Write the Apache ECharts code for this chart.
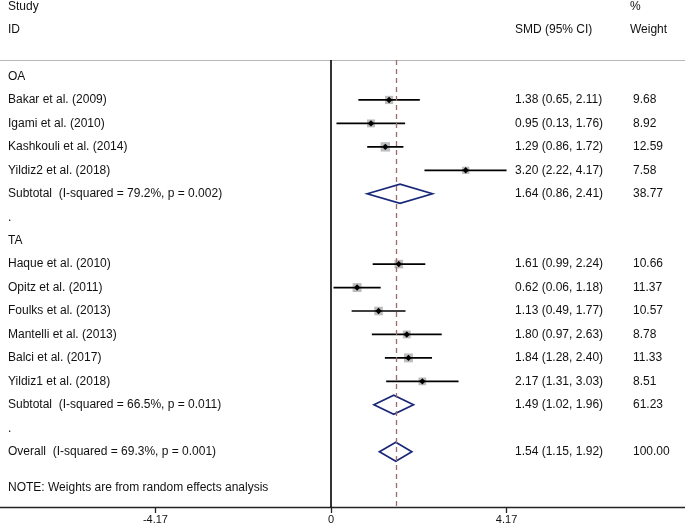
<!DOCTYPE html>
<html><head><meta charset="utf-8">
<script src="https://cdn.jsdelivr.net/npm/echarts@6/dist/echarts.min.js"></script>
<style>html,body{margin:0;padding:0;background:#fff}#c{width:685px;height:527px}</style>
</head><body><div id="c"></div>
<script>
// ---- data ----
const studyNames = ['Bakar et al. (2009)','Igami et al. (2010)','Kashkouli et al. (2014)','Yildiz2 et al. (2018)',
  'Haque et al. (2010)','Opitz et al. (2011)','Foulks et al. (2013)','Mantelli et al. (2013)','Balci et al. (2017)','Yildiz1 et al. (2018)'];
const studyRows = [1,2,3,4,8,9,10,11,12,13];
const smd = [1.38,0.95,1.29,3.20,1.61,0.62,1.13,1.80,1.84,2.17];
const ciLow = [0.65,0.13,0.86,2.22,0.99,0.06,0.49,0.97,1.28,1.31];
const ciHigh = [2.11,1.76,1.72,4.17,2.24,1.18,1.77,2.63,2.40,3.03];
const weights = [9.68,8.92,12.59,7.58,10.66,11.37,10.57,8.78,11.33,8.51];

const pooledLabels = ['Subtotal  (I-squared = 79.2%, p = 0.002)','Subtotal  (I-squared = 66.5%, p = 0.011)','Overall  (I-squared = 69.3%, p = 0.001)'];
const pooledRows = [5,14,16];
const pooledSmd = [1.64,1.49,1.54];
const pooledLow = [0.86,1.02,1.15];
const pooledHigh = [2.41,1.96,1.92];
const pooledWeight = [38.77,61.23,100.00];

const groupLabels = ['OA','TA'];
const groupRows = [0,7];
const dotRows = [6,15];
const noteText = 'NOTE: Weights are from random effects analysis';
const noteRow = 17.55;
const tickValues = [-4.17, 0, 4.17];
const overallSmd = 1.54;

// ---- layout ----
const PX_PER_UNIT = 42.1, ZERO_X = 331, W = 685;
const GRID_TOP = 60, GRID_BOTTOM_Y = 507, ROW_H = 23.45, FIRST_ROW_Y = 76.5;
const xMin = -ZERO_X / PX_PER_UNIT, xMax = (W - ZERO_X) / PX_PER_UNIT;
const yMin = -(FIRST_ROW_Y - GRID_TOP) / ROW_H;
const yMax = yMin + (GRID_BOTTOM_Y - GRID_TOP) / ROW_H;
const COL_LABEL = 8, COL_SMD = 515, COL_W = 633;
const FONT = '"Liberation Sans", Arial, Helvetica, sans-serif';
const TXT = '#111';

const fmt = v => v.toFixed(2);

// text rows
const textRows = [];
studyNames.forEach((n,i)=>textRows.push([studyRows[i], n, fmt(smd[i])+' ('+fmt(ciLow[i])+', '+fmt(ciHigh[i])+')', fmt(weights[i])]));
pooledLabels.forEach((n,i)=>textRows.push([pooledRows[i], n, fmt(pooledSmd[i])+' ('+fmt(pooledLow[i])+', '+fmt(pooledHigh[i])+')', fmt(pooledWeight[i])]));
groupLabels.forEach((n,i)=>textRows.push([groupRows[i], n, '', '']));
dotRows.forEach(r=>textRows.push([r, '.', '', '']));
textRows.push([noteRow, noteText, '', '']);

const studyData = studyRows.map((r,i)=>[smd[i], r, ciLow[i], ciHigh[i], weights[i]]);
const pooledData = pooledRows.map((r,i)=>[pooledSmd[i], r, pooledLow[i], pooledHigh[i]]);

const chart = echarts.init(document.getElementById('c'), null, {renderer:'canvas'});
const textStyle = (x,y,t)=>({type:'text', style:{x:x, y:y, text:t, fill:TXT, font:'12px '+FONT, textVerticalAlign:'middle', textAlign:'left'}});

chart.setOption({
  animation:false,
  backgroundColor:'#fff',
  grid:{left:0, right:0, top:GRID_TOP, bottom:527-GRID_BOTTOM_Y, containLabel:false},
  xAxis:[{
    type:'value', min:xMin, max:xMax, position:'bottom',
    splitLine:{show:false},
    axisLine:{show:true, onZero:false, lineStyle:{color:'#222', width:1.3}},
    axisTick:{show:true, customValues:tickValues, length:6, inside:false, lineStyle:{color:'#222', width:1.3}},
    axisLabel:{show:true, customValues:tickValues, margin:7, color:TXT, fontSize:11, fontFamily:FONT,
      formatter:v=>{ const t = tickValues.find(tv=>Math.abs(tv-v)<1e-6); return t===undefined? '' : (t===0?'0':t.toFixed(2)); }}
  },{
    type:'value', min:xMin, max:xMax, position:'top',
    splitLine:{show:false}, axisTick:{show:false}, axisLabel:{show:false},
    axisLine:{show:true, onZero:false, lineStyle:{color:'#b8b8b8', width:1.2}}
  }],
  yAxis:{type:'value', min:yMin, max:yMax, inverse:true, show:false},
  graphic:[
    textStyle(COL_LABEL, 7, 'Study'),
    textStyle(COL_LABEL, 30, 'ID'),
    textStyle(COL_SMD, 30, 'SMD (95% CI)'),
    textStyle(630, 7, '%'),
    textStyle(630, 30, 'Weight')
  ],
  series:[
    {
      type:'custom', name:'ref', data:[], silent:true,
      markLine:{silent:true, symbol:'none', label:{show:false},
        data:[
          {xAxis:0, lineStyle:{color:'#000', width:1.6, type:'solid'}},
          {xAxis:overallSmd, lineStyle:{color:'#9e6a6a', width:1.3, type:[5,4]}}
        ]},
      renderItem:()=>null
    },
    {
      type:'custom', name:'studies', data:studyData, silent:true,
      renderItem:(params, api)=>{
        const est = api.value(0), row = api.value(1), lo = api.value(2), hi = api.value(3), w = api.value(4);
        const p = api.coord([est,row]), a = api.coord([lo,row]), b = api.coord([hi,row]);
        const s = 2.65*Math.sqrt(w);
        const d = 3.2;
        return {type:'group', children:[
          {type:'rect', shape:{x:p[0]-s/2, y:p[1]-s/2, width:s, height:s}, style:{fill:'#bdbdbd'}},
          {type:'line', shape:{x1:a[0], y1:a[1], x2:b[0], y2:b[1]}, style:{stroke:'#000', lineWidth:1.7}},
          {type:'polygon', shape:{points:[[p[0]-d,p[1]],[p[0],p[1]-d],[p[0]+d,p[1]],[p[0],p[1]+d]]}, style:{fill:'#000'}}
        ]};
      }
    },
    {
      type:'custom', name:'pooled', data:pooledData, silent:true,
      renderItem:(params, api)=>{
        const est = api.value(0), row = api.value(1), lo = api.value(2), hi = api.value(3);
        const p = api.coord([est,row]), a = api.coord([lo,row]), b = api.coord([hi,row]);
        const h = 9.5;
        return {type:'polygon', shape:{points:[[a[0],p[1]],[p[0],p[1]-h],[b[0],p[1]],[p[0],p[1]+h]]},
          style:{fill:'none', stroke:'#1a2878', lineWidth:1.7}};
      }
    },
    {
      type:'custom', name:'text', data:textRows.map(t=>[0,t[0]]), silent:true,
      renderItem:(params, api)=>{
        const t = textRows[params.dataIndex];
        const y = api.coord([0, api.value(1)])[1];
        const ch = [textStyle(COL_LABEL, y, t[1])];
        if (t[2]) ch.push(textStyle(COL_SMD, y, t[2]));
        if (t[3]) ch.push(textStyle(COL_W, y, t[3]));
        return {type:'group', children:ch};
      }
    }
  ]
});
</script></body></html>
